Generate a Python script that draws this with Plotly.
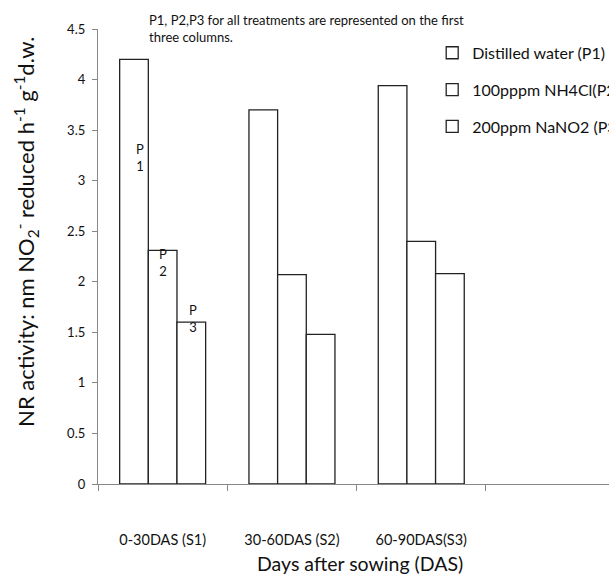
import plotly.graph_objects as go

# Sampling stages (days after sowing); the trailing blank slot keeps the empty fourth column
stages = ["0-30DAS (S1)", "30-60DAS (S2)", "60-90DAS(S3)", " "]
plotted_stages = stages[:3]

# Treatments and nitrite reductase activity (nm NO2- reduced h-1 g-1 d.w.)
treatments = ["Distilled water (P1)", "100pppm NH4Cl(P2)", "200ppm NaNO2 (P3)"]
p1_values = [4.20, 3.70, 3.94]
p2_values = [2.31, 2.07, 2.40]
p3_values = [1.60, 1.48, 2.08]

# Column markers on the first group: label, treatment index, y position
marker_labels = ["P<br>1", "P<br>2", "P<br>3"]
marker_y = [3.23, 2.19, 1.64]

FONT = "Lato"
BAR_GAP = 0.335

fig = go.Figure()
for name, vals in zip(treatments, [p1_values, p2_values, p3_values]):
    fig.add_trace(go.Bar(
        x=plotted_stages, y=vals, name=name,
        marker=dict(color="white", line=dict(color="#222222", width=1.3)),
        legendgroup=name,
    ))

bar_w = (1 - BAR_GAP) / 3
for i, (lbl, yv) in enumerate(zip(marker_labels, marker_y)):
    fig.add_annotation(
        x=(i - 1) * bar_w, y=yv, xref="x", yref="y", text=lbl, showarrow=False,
        xshift=[6, 0, 2][i], font=dict(family=FONT, size=13, color="#111"),
        align="center",
    )

fig.add_annotation(
    text="P1, P2,P3 for all treatments are represented on the first<br>three columns.",
    xref="paper", yref="paper", x=0.0959, y=1.002, xanchor="left", yanchor="middle",
    align="left", showarrow=False, font=dict(family=FONT, size=13, color="#111"),
)
fig.add_annotation(
    text="Days after sowing (DAS)", xref="paper", yref="paper", x=0.513, y=-0.174,
    xanchor="center", yanchor="middle", showarrow=False,
    font=dict(family=FONT, size=19.5, color="#111"),
)
fig.add_annotation(
    text="NR activity: nm NO<sub>2</sub><sup>-</sup> reduced h<sup>-1</sup> g<sup>-1</sup>d.w.",
    xref="paper", yref="paper", x=-0.141, y=0.554, textangle=-90,
    xanchor="center", yanchor="middle", showarrow=False,
    font=dict(family=FONT, size=22, color="#111"),
)

fig.update_layout(
    width=609, height=577,
    margin=dict(l=98, r=0, t=29, b=93, autoexpand=False),
    paper_bgcolor="white", plot_bgcolor="white",
    barmode="group", bargap=BAR_GAP, bargroupgap=0,
    font=dict(family=FONT, color="#111"),
    legend=dict(
        x=0.654, y=0.985, xanchor="left", yanchor="top",
        font=dict(family=FONT, size=16, color="#111"),
        tracegroupgap=13, itemwidth=30, bgcolor="rgba(0,0,0,0)",
    ),
)
fig.update_xaxes(
    type="category", categoryorder="array", categoryarray=stages,
    range=[-0.5, 3.452], tickson="boundaries", ticks="outside", ticklen=6,
    tickcolor="#888", showline=True, linecolor="#888", linewidth=1.3,
    showgrid=False, ticklabelstandoff=42,
    tickfont=dict(family=FONT, size=14.5, color="#111"),
)
fig.update_yaxes(
    range=[0, 4.5], dtick=0.5, ticks="outside", ticklen=5, tickcolor="#888",
    showline=True, linecolor="#888", linewidth=1.3, showgrid=False, zeroline=False,
    ticklabelstandoff=4, tickfont=dict(family=FONT, size=13, color="#111"),
)

fig.write_html("out.html")
